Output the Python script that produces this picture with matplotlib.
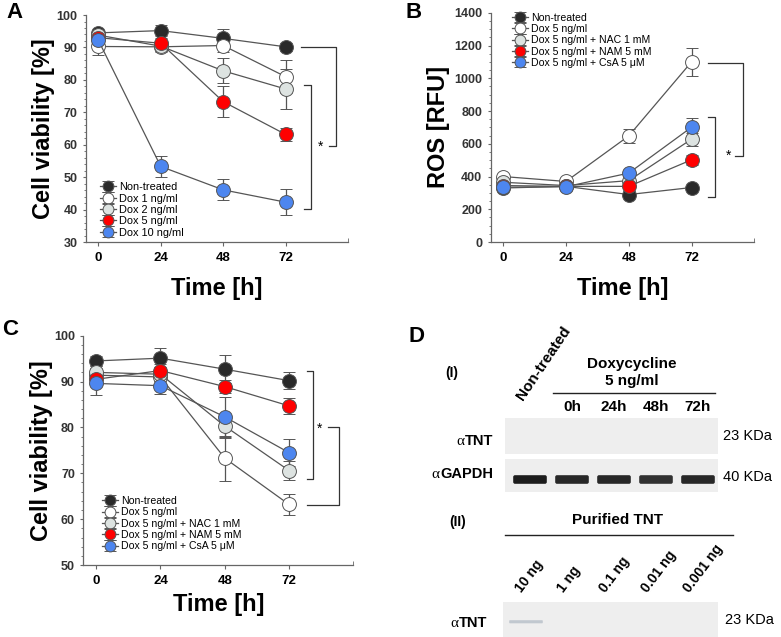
import matplotlib.pyplot as plt
from matplotlib.patches import Rectangle, FancyBboxPatch
from matplotlib.ticker import MultipleLocator, FixedLocator

plt.rcParams['font.family'] = ['Liberation Sans', 'DejaVu Sans']

time_h = [0, 24, 48, 72]

# Panel A - cell viability vs doxycycline dose
a_labels = ['Non-treated', 'Dox 1 ng/ml', 'Dox 2 ng/ml', 'Dox 5 ng/ml', 'Dox 10 ng/ml']
a_nontreated = [94.5, 95.2, 92.8, 90.2]
a_nontreated_err = [1.0, 1.8, 3.0, 1.2]
a_dox1 = [90.3, 90.2, 90.6, 81.0]
a_dox1_err = [2.6, 1.5, 2.0, 5.0]
a_dox2 = [93.8, 90.4, 82.8, 77.2]
a_dox2_err = [1.5, 1.5, 3.8, 6.2]
a_dox5 = [93.0, 91.3, 73.3, 63.2]
a_dox5_err = [1.0, 1.5, 4.8, 2.0]
a_dox10 = [92.2, 53.3, 46.1, 42.3]
a_dox10_err = [1.5, 3.3, 3.2, 4.0]

# Panel B - ROS
b_labels = ['Non-treated', 'Dox 5 ng/ml', 'Dox 5 ng/ml + NAC 1 mM',
            'Dox 5 ng/ml + NAM 5 mM', 'Dox 5 ng/ml + CsA 5 μM']
b_nontreated = [330, 340, 290, 333]
b_nontreated_err = [15, 10, 20, 15]
b_dox5 = [400, 370, 648, 1100]
b_dox5_err = [15, 10, 45, 85]
b_nac = [365, 345, 375, 628]
b_nac_err = [15, 10, 20, 40]
b_nam = [345, 340, 340, 502]
b_nam_err = [10, 10, 15, 30]
b_csa = [335, 338, 421, 701]
b_csa_err = [10, 10, 20, 55]

# Panel C - cell viability with inhibitors
c_labels = b_labels
c_nontreated = [94.5, 95.1, 92.7, 90.2]
c_nontreated_err = [1.0, 2.2, 3.0, 1.8]
c_dox5 = [91.4, 91.0, 73.3, 63.2]
c_dox5_err = [1.5, 1.5, 4.9, 2.3]
c_nac = [92.0, 91.6, 80.3, 70.6]
c_nac_err = [1.5, 1.5, 2.5, 2.0]
c_nam = [90.5, 92.4, 88.9, 84.7]
c_nam_err = [1.2, 1.5, 1.5, 1.8]
c_csa = [89.6, 89.1, 82.3, 74.5]
c_csa_err = [2.5, 1.8, 4.3, 3.0]

# Panel D - western blots
d_lanes = ['0h', '24h', '48h', '72h']
d_tnt = [0, 0, 0, 0, 0]
d_gapdh = [1.0, 0.95, 0.95, 0.9, 0.95]
d_purified = ['10 ng', '1 ng', '0.1 ng', '0.01 ng', '0.001 ng']
d_purified_tnt = [0.35, 0, 0, 0, 0]

colors = ['#2a2a2a', '#ffffff', '#dde3e1', '#ff0000', '#4d86ef']
edge = '#555555'


def draw_series(ax, means, errs, labels):
    for m, e, lab, col in zip(means, errs, labels, colors):
        ax.errorbar(time_h, m, yerr=e, color=edge, lw=0.9, elinewidth=0.9,
                    capsize=4, capthick=0.9, marker='o', markersize=10,
                    markerfacecolor=col, markeredgecolor=edge,
                    markeredgewidth=0.7, label=lab, clip_on=False)


def style_axes(ax, ylim, major, minor):
    ax.set_xlim(-4.8, 96)
    ax.set_ylim(*ylim)
    ax.set_xticks([0, 24, 48, 72])
    ax.xaxis.set_minor_locator(FixedLocator([96]))
    ax.yaxis.set_major_locator(MultipleLocator(major))
    ax.yaxis.set_minor_locator(MultipleLocator(minor))
    for s in ['top', 'right']:
        ax.spines[s].set_visible(False)
    for s in ['left', 'bottom']:
        ax.spines[s].set_color('#666666')
        ax.spines[s].set_linewidth(0.9)
    ax.tick_params(axis='y', which='major', direction='out', length=2.5,
                   color='#666666', labelsize=9, pad=3.5, labelcolor='#333333')
    ax.tick_params(axis='y', which='minor', direction='out', length=1.8, color='#666666')
    ax.tick_params(axis='x', which='major', direction='out', length=3,
                   color='#666666', labelsize=9.5, pad=4.5)
    ax.tick_params(axis='x', which='minor', direction='in', length=3, color='#666666')
    for t in ax.get_yticklabels() + ax.get_xticklabels():
        t.set_fontweight('bold')
    ax.set_xlabel('Time [h]', fontsize=17, fontweight='bold', labelpad=9)


def bracket(ax, xs, ys):
    ax.plot(xs, ys, color='#333333', lw=0.9, clip_on=False)


def legend(ax, anchor, loc, size):
    return ax.legend(loc=loc, bbox_to_anchor=anchor, frameon=False, fontsize=size,
                     handlelength=1.5, handletextpad=0.3, labelspacing=0.12,
                     borderpad=0, borderaxespad=0, markerscale=0.78)


fig = plt.figure(figsize=(7.81, 6.37), dpi=100)

# ---- A ----
ax_a = fig.add_axes([0.110, 0.620, 0.3355, 0.3564])
draw_series(ax_a, [a_nontreated, a_dox1, a_dox2, a_dox5, a_dox10],
            [a_nontreated_err, a_dox1_err, a_dox2_err, a_dox5_err, a_dox10_err], a_labels)
style_axes(ax_a, (30, 100), 10, 2)
ax_a.set_ylabel('Cell viability [%]', fontsize=17, fontweight='bold', labelpad=1)
legend(ax_a, (0.052, 0.02), 'lower left', 7.9)
bracket(ax_a, [77.8, 91.6, 91.6, 88.6], [90, 90, 59.5, 59.5])
bracket(ax_a, [79.1, 81.6, 81.6, 79.1], [78.4, 78.4, 40.2, 40.2])
ax_a.text(85.3, 59.5, '*', fontsize=10, ha='center', va='center')
fig.text(15 / 781, 1 - 13 / 637, 'A', fontsize=16, fontweight='bold', ha='center', va='center')

# ---- B ----
ax_b = fig.add_axes([0.6283, 0.620, 0.3375, 0.360])
draw_series(ax_b, [b_nontreated, b_dox5, b_nac, b_nam, b_csa],
            [b_nontreated_err, b_dox5_err, b_nac_err, b_nam_err, b_csa_err], b_labels)
style_axes(ax_b, (0, 1400), 200, 50)
ax_b.set_ylabel('ROS [RFU]', fontsize=17, fontweight='bold', labelpad=3)
legend(ax_b, (0.082, 1.0), 'upper left', 7.6)
bracket(ax_b, [78.3, 91.7, 91.7, 88.5], [1095, 1095, 526, 526])
bracket(ax_b, [78.3, 80.9, 80.9, 78.3], [762, 762, 278, 278])
ax_b.text(86.0, 526, '*', fontsize=10, ha='center', va='center')
fig.text(414 / 781, 1 - 13 / 637, 'B', fontsize=16, fontweight='bold', ha='center', va='center')

# ---- C ----
ax_c = fig.add_axes([0.1067, 0.113, 0.3457, 0.360])
draw_series(ax_c, [c_nontreated, c_dox5, c_nac, c_nam, c_csa],
            [c_nontreated_err, c_dox5_err, c_nac_err, c_nam_err, c_csa_err], c_labels)
style_axes(ax_c, (50, 100), 10, 2)
ax_c.set_ylabel('Cell viability [%]', fontsize=17, fontweight='bold', labelpad=1)
ax_c.xaxis.labelpad = 4
legend(ax_c, (0.070, 0.06), 'lower left', 7.6)
bracket(ax_c, [78.7, 81.0, 81.0, 78.7], [92.2, 92.2, 68.8, 68.8])
bracket(ax_c, [86.5, 90.6, 90.6, 78.7], [80.2, 80.2, 63.1, 63.1])
ax_c.text(83.5, 79.8, '*', fontsize=10, ha='center', va='center')
fig.text(10 / 781, 1 - 330 / 637, 'C', fontsize=16, fontweight='bold', ha='center', va='center')

# ---- D ---- (pixel coordinates of the right-bottom quadrant)
ax_d = fig.add_axes([390 / 781, 0, 391 / 781, 337 / 637])
ax_d.set_xlim(390, 781)
ax_d.set_ylim(637, 300)
ax_d.axis('off')
renderer = fig.canvas.get_renderer()


def alpha_label(x, y, name):
    # regular serif alpha followed by the bold antibody name
    t = ax_d.text(x, y, name, fontsize=10.5, fontweight='bold', ha='right', va='center')
    bb = t.get_window_extent(renderer).transformed(ax_d.transData.inverted())
    ax_d.text(min(bb.x0, bb.x1) - 0.5, y + 0.5, 'α', fontsize=11, family='Liberation Serif',
              ha='right', va='center')


ax_d.text(416, 337, 'D', fontsize=16, fontweight='bold', ha='center', va='center')
ax_d.text(452, 373, '(I)', fontsize=10, fontweight='bold', ha='center', va='center')
ax_d.text(458, 522, '(II)', fontsize=10, fontweight='bold', ha='center', va='center')

lane0, step = 530, 42
ax_d.text(lane0 - 5, 403, 'Non-treated', fontsize=11, fontweight='bold', rotation=56,
          rotation_mode='anchor', ha='left', va='bottom')
ax_d.text(632, 364, 'Doxycycline', fontsize=11, fontweight='bold', ha='center', va='center')
ax_d.text(632, 381, '5 ng/ml', fontsize=11, fontweight='bold', ha='center', va='center')
ax_d.plot([553, 715], [393, 393], color='#222222', lw=1)
for i, lab in enumerate(d_lanes):
    ax_d.text(lane0 + step * (i + 1), 407, lab, fontsize=11, fontweight='bold',
              ha='center', va='center')

# TNT blot
ax_d.add_patch(Rectangle((505, 418), 213, 36, color='#eeeeee', lw=0))
for i, v in enumerate(d_tnt):
    if v > 0:
        ax_d.add_patch(FancyBboxPatch((lane0 + step * i - 16, 433), 32, 5,
                                      boxstyle='round,pad=1', color='#222222', alpha=v))
alpha_label(493, 441, 'TNT')
ax_d.text(723, 436, '23 KDa', fontsize=10.5, ha='left', va='center')

# GAPDH blot
ax_d.add_patch(Rectangle((505, 459), 213, 33, color='#eeeeee', lw=0))
for i, v in enumerate(d_gapdh):
    ax_d.add_patch(FancyBboxPatch((lane0 + step * i - 15, 477), 30, 5,
                                  boxstyle='round,pad=1.8', color='#1c1c1c', alpha=v, lw=0))
alpha_label(493, 474, 'GAPDH')
ax_d.text(723, 477, '40 KDa', fontsize=10.5, ha='left', va='center')

# Purified TNT blot
ax_d.text(618, 520, 'Purified TNT', fontsize=11, fontweight='bold', ha='center', va='center')
ax_d.plot([505, 733], [535, 535], color='#222222', lw=1)
for i, lab in enumerate(d_purified):
    ax_d.text(lane0 - 6 + step * i, 595, lab, fontsize=10, fontweight='bold', rotation=53,
              rotation_mode='anchor', ha='left', va='bottom')
ax_d.add_patch(Rectangle((503, 602), 215, 35, color='#eeeeee', lw=0))
for i, v in enumerate(d_purified_tnt):
    if v > 0:
        ax_d.add_patch(FancyBboxPatch((lane0 + step * i - 20, 621), 32, 1.5,
                                      boxstyle='round,pad=0.8', color='#6f8296', alpha=v, lw=0))
alpha_label(487, 623, 'TNT')
ax_d.text(725, 620, '23 KDa', fontsize=10.5, ha='left', va='center')

fig.savefig('out.png', dpi=100)
